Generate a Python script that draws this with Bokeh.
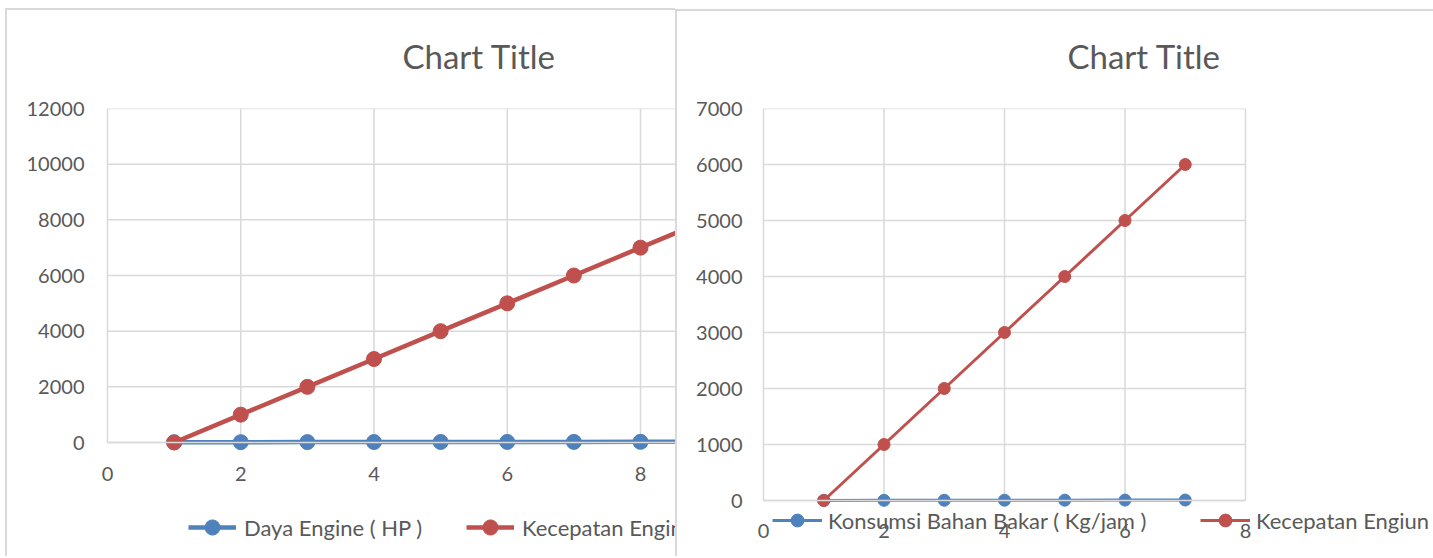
from bokeh.plotting import figure
from bokeh.models import Legend, LegendItem, FixedTicker, Range1d
from bokeh.layouts import row
from bokeh.embed import file_html
from bokeh.resources import INLINE

# ---------------- data ----------------
left_x = [1, 2, 3, 4, 5, 6, 7, 8, 9]
daya_engine_hp = [10, 12, 14, 16, 18, 20, 22, 24, 26]
kecepatan_engine_left = [0, 1000, 2000, 3000, 4000, 5000, 6000, 7000, 8000]

right_x = [1, 2, 3, 4, 5, 6, 7]
konsumsi_bahan_bakar = [2, 3, 4, 5, 6, 7, 8]
kecepatan_engiun_right = [0, 1000, 2000, 3000, 4000, 5000, 6000]

left_xticks = [0, 2, 4, 6, 8]
left_yticks = [0, 2000, 4000, 6000, 8000, 10000, 12000]
right_xticks = [0, 2, 4, 6, 8]
right_yticks = [0, 1000, 2000, 3000, 4000, 5000, 6000, 7000]

title_text = "Chart Title"
left_labels = ["Daya Engine ( HP )", "Kecepatan Engine"]
right_labels = ["Konsumsi Bahan Bakar ( Kg/jam )", "Kecepatan Engiun"]

# ---------------- style ----------------
FONT = "Lato"
TXT = "#595959"
GRID = "#D9D9D9"
BLUE = "#4F81BD"
RED = "#C0504D"
H = 556          # figure height
TOP = 108        # frame top (pixel)


def y_start(ymax, zero_px):
    # value at the bottom of the frame so that 0 lies at zero_px
    return -ymax * (H - zero_px) / (zero_px - TOP)


def border_css(x, y):
    g = "linear-gradient(#D9D9D9,#D9D9D9)"
    return {"background": f"{g} {x}px {y}px / 2px 100% no-repeat, "
                          f"{g} {x}px {y}px / 100% 2px no-repeat"}


def style(p, xt, yt, xmax, xstand, ystand, title_offset):
    p.xaxis.ticker = FixedTicker(ticks=xt)
    p.yaxis.ticker = FixedTicker(ticks=yt)
    for ax in (p.xaxis[0], p.yaxis[0]):
        ax.major_tick_line_color = None
        ax.minor_tick_line_color = None
        ax.major_tick_out = 0
        ax.major_tick_in = 0
        ax.major_label_text_font = FONT
        ax.major_label_text_font_size = "20px"
        ax.major_label_text_color = TXT
    p.yaxis.axis_line_color = None
    p.yaxis.major_label_standoff = ystand
    p.xaxis.fixed_location = 0
    p.xaxis.bounds = (0, xmax)
    p.xaxis.axis_line_color = GRID
    p.xaxis.axis_line_width = 1.5
    p.xaxis.major_label_standoff = xstand
    p.xgrid.visible = False
    p.ygrid.visible = False
    top = yt[-1]
    p.segment(x0=xt, y0=[0] * len(xt), x1=xt, y1=[top] * len(xt),
              line_color=GRID, line_width=1.5)
    p.segment(x0=[0] * len(yt), y0=yt, x1=[xmax] * len(yt), y1=yt,
              line_color=GRID, line_width=1.5)
    p.outline_line_color = None
    p.background_fill_color = "white"
    p.border_fill_color = None
    p.title.text = title_text
    p.title.align = "left"
    p.title.offset = title_offset
    p.title.standoff = 66
    p.title.text_font = FONT
    p.title.text_font_style = "normal"
    p.title.text_font_size = "33px"
    p.title.text_color = TXT


def make_legend(items, loc, gw, gh, standoff, lw):
    return Legend(items=items, location=loc, orientation="horizontal",
                  glyph_width=gw, glyph_height=gh, label_standoff=standoff,
                  label_width=lw, padding=0, margin=0, spacing=0,
                  border_line_color=None, background_fill_alpha=0,
                  label_text_font=FONT, label_text_font_size="22px",
                  label_text_color=TXT)


# ---------------- left chart ----------------
L_PPU = 66.625                      # pixels per x unit
L_START = -(107 - 90) / L_PPU       # frame starts a little left of x=0
pl = figure(width=675, height=H, x_range=Range1d(L_START, L_START + 585 / L_PPU),
            y_range=Range1d(y_start(12000, 442), 12000),
            output_backend="svg", toolbar_location=None,
            min_border_left=90, min_border_right=0, min_border_top=TOP, min_border_bottom=0,
            styles=border_css(5, 8))
style(pl, left_xticks, left_yticks, L_START + 585 / L_PPU, 24, 6, 312)
b1 = pl.line(left_x, daya_engine_hp, line_color=BLUE, line_width=4.5)
b2 = pl.scatter(left_x, daya_engine_hp, marker="circle", size=15, color=BLUE)
r1 = pl.line(left_x, kecepatan_engine_left, line_color=RED, line_width=4.5)
r2 = pl.scatter(left_x, kecepatan_engine_left, marker="circle", size=15, color=RED)
pl.add_layout(make_legend([LegendItem(label=left_labels[0], renderers=[b1, b2]),
                           LegendItem(label=left_labels[1], renderers=[r1, r2])],
                          (98, 10), 48, 38, 8, 222), "center")

# ---------------- right chart ----------------
R_PPU = 60.25
R_START = -(88 - 72) / R_PPU
pr = figure(width=758, height=H, x_range=Range1d(R_START, R_START + 686 / R_PPU),
            y_range=Range1d(y_start(7000, 500), 7000),
            output_backend="svg", toolbar_location=None,
            min_border_left=72, min_border_right=0, min_border_top=TOP, min_border_bottom=0,
            styles=border_css(0, 9))
style(pr, right_xticks, right_yticks, 8, 23, 5, 320)
b3 = pr.line(right_x, konsumsi_bahan_bakar, line_color=BLUE, line_width=3)
b4 = pr.scatter(right_x, konsumsi_bahan_bakar, marker="circle", size=12, color=BLUE)
r3 = pr.line(right_x, kecepatan_engiun_right, line_color=RED, line_width=3)
r4 = pr.scatter(right_x, kecepatan_engiun_right, marker="circle", size=12, color=RED)
pr.add_layout(make_legend([LegendItem(label=right_labels[0], renderers=[b3, b4]),
                           LegendItem(label=right_labels[1], renderers=[r3, r4])],
                          (25, 20), 50, 32, 6, 372), "center")

layout = row(pl, pr)
open("out.html", "w").write(file_html(layout, INLINE))
